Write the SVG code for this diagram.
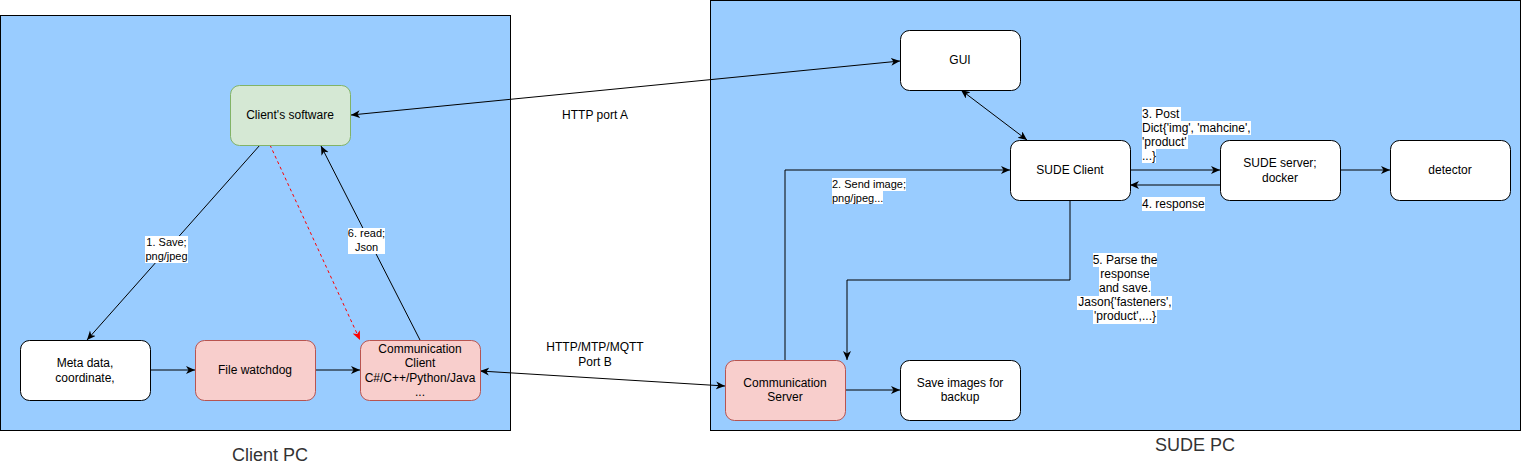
<svg xmlns="http://www.w3.org/2000/svg" width="1521" height="471" viewBox="0 0 1521 471">
<style>
text{font-family:"Liberation Sans",Arial,sans-serif;fill:#000}
.n{font-size:12px;text-anchor:middle}
.l11{font-size:11px}
.l12{font-size:12px}
.c{text-anchor:middle}
.big{font-size:18px;text-anchor:middle;fill:#333}
.cont{fill:#99ccff;stroke:#000;stroke-width:1}
.w{fill:#fff;stroke:#000;stroke-width:1}
.r{fill:#f8cecc;stroke:#b85450;stroke-width:1}
.g{fill:#d5e8d4;stroke:#82b366;stroke-width:1}
.e{fill:none;stroke:#000;stroke-width:1}
.bg{fill:#fff}
</style>
<defs>
<marker id="a" markerUnits="userSpaceOnUse" markerWidth="10" markerHeight="10" refX="9" refY="4" orient="auto-start-reverse">
<path d="M0,0 L9,4 L0,8 L2.5,4 Z" fill="#000"/>
</marker>
<marker id="ar" markerUnits="userSpaceOnUse" markerWidth="10" markerHeight="10" refX="9" refY="4" orient="auto">
<path d="M0,0 L9,4 L0,8 L2.5,4 Z" fill="#ff0000"/>
</marker>
</defs>
<g id="client-pc">
<rect class="cont" x="0.5" y="15.5" width="510" height="415"/>
<text class="big" x="270" y="461">Client PC</text>
</g>
<g id="sude-pc">
<rect class="cont" x="710.5" y="0.5" width="810" height="430"/>
<text class="big" x="1195" y="451">SUDE PC</text>
</g>
<g id="http-a"><text class="n" x="595" y="119">HTTP port A</text></g>
<g id="http-b"><text class="n" x="595" y="351">HTTP/MTP/MQTT</text><text class="n" x="595" y="366">Port B</text></g>
<g id="edges">
<path class="e" d="M351,115 L900,61" marker-start="url(#a)" marker-end="url(#a)"/>
<path class="e" d="M480,371 L725,386" marker-start="url(#a)" marker-end="url(#a)"/>
<path class="e" d="M260,145 L87,340" marker-end="url(#a)"/>
<path class="e" d="M420,340 L321,146" marker-end="url(#a)"/>
<path d="M270,145 L360,340" fill="none" stroke="#ff0000" stroke-width="1" stroke-dasharray="3 3" marker-end="url(#ar)"/>
<path class="e" d="M150,370 L195,370" marker-end="url(#a)"/>
<path class="e" d="M315,370 L360,370" marker-end="url(#a)"/>
<path class="e" d="M785,360 L785,170 L1010,170" marker-end="url(#a)"/>
<path class="e" d="M961,90 L1027,140" marker-start="url(#a)" marker-end="url(#a)"/>
<path class="e" d="M1130,170 L1220,170" marker-end="url(#a)"/>
<path class="e" d="M1220,185 L1130,185" marker-end="url(#a)"/>
<path class="e" d="M1340,170 L1390,170" marker-end="url(#a)"/>
<path class="e" d="M1070,200 L1070,280 L847,280 L847,360" marker-end="url(#a)"/>
<path class="e" d="M845,390 L900,390" marker-end="url(#a)"/>
<rect class="bg" x="145" y="236" width="43" height="27"/>
<text class="l11 c" x="166.5" y="246">1. Save;</text>
<text class="l11 c" x="166.5" y="260">png/jpeg</text>
<rect class="bg" x="348" y="228" width="37" height="26"/>
<text class="l11 c" x="366.5" y="237">6. read;</text>
<text class="l11 c" x="366.5" y="251">Json</text>
<rect class="bg" x="832" y="178" width="74" height="13"/>
<rect class="bg" x="832" y="191" width="51" height="13"/>
<text class="l11" x="832" y="188">2. Send image;</text>
<text class="l11" x="832" y="202">png/jpeg...</text>
<rect class="bg" x="1142" y="107" width="39" height="14"/>
<rect class="bg" x="1142" y="121" width="109" height="14"/>
<rect class="bg" x="1142" y="135" width="46" height="14"/>
<rect class="bg" x="1142" y="149" width="14" height="14"/>
<text class="l12" x="1142" y="118">3. Post</text>
<text class="l12" x="1142" y="132">Dict{'img', 'mahcine',</text>
<text class="l12" x="1142" y="146">'product'</text>
<text class="l12" x="1142" y="160">...}</text>
<rect class="bg" x="1142" y="197" width="63" height="14"/>
<text class="l12" x="1142" y="208">4. response</text>
<rect class="bg" x="1093" y="253" width="64" height="14"/>
<rect class="bg" x="1099" y="267" width="51" height="14"/>
<rect class="bg" x="1099" y="281" width="52" height="15"/>
<rect class="bg" x="1077" y="296" width="95" height="14"/>
<rect class="bg" x="1093" y="310" width="64" height="14"/>
<text class="l12 c" x="1125" y="264">5. Parse the</text>
<text class="l12 c" x="1125" y="278">response</text>
<text class="l12 c" x="1125" y="292">and save.</text>
<text class="l12 c" x="1125" y="306">Jason{'fasteners',</text>
<text class="l12 c" x="1125" y="320">'product',...}</text>
</g>
<g id="clients-software"><rect class="g" x="230.5" y="85.5" width="120" height="60" rx="9"/><text class="n" x="290" y="119">Client's software</text></g>
<g id="meta-data"><rect class="w" x="20.5" y="340.5" width="130" height="60" rx="9"/><text class="n" x="85" y="367">Meta data,</text><text class="n" x="85" y="382">coordinate,</text></g>
<g id="file-watchdog"><rect class="r" x="195.5" y="340.5" width="120" height="60" rx="9"/><text class="n" x="255" y="374">File watchdog</text></g>
<g id="communication-client"><rect class="r" x="360.5" y="340.5" width="120" height="60" rx="9"/><text class="n" x="420" y="353">Communication</text><text class="n" x="420" y="367">Client</text><text class="n" x="420" y="382">C#/C++/Python/Java</text><text class="n" x="420" y="396">...</text></g>
<g id="gui"><rect class="w" x="900.5" y="30.5" width="120" height="60" rx="9"/><text class="n" x="960" y="64">GUI</text></g>
<g id="sude-client"><rect class="w" x="1010.5" y="140.5" width="120" height="60" rx="9"/><text class="n" x="1070" y="174">SUDE Client</text></g>
<g id="sude-server"><rect class="w" x="1220.5" y="140.5" width="120" height="60" rx="9"/><text class="n" x="1280" y="167">SUDE server;</text><text class="n" x="1280" y="182">docker</text></g>
<g id="detector"><rect class="w" x="1390.5" y="140.5" width="120" height="60" rx="9"/><text class="n" x="1450" y="174">detector</text></g>
<g id="communication-server"><rect class="r" x="725.5" y="360.5" width="120" height="60" rx="9"/><text class="n" x="785" y="387">Communication</text><text class="n" x="785" y="401">Server</text></g>
<g id="save-images"><rect class="w" x="900.5" y="360.5" width="120" height="60" rx="9"/><text class="n" x="960" y="387">Save images for</text><text class="n" x="960" y="401">backup</text></g>
</svg>
